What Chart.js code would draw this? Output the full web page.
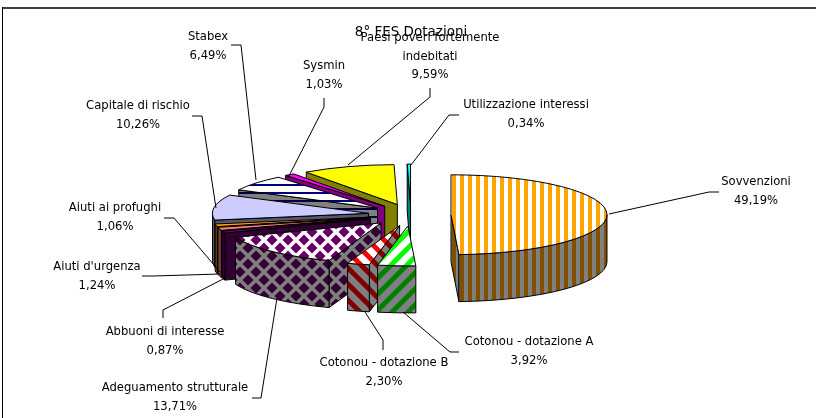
<!DOCTYPE html>
<html lang="it">
<head>
  <meta charset="UTF-8" />
  <title>8° FES Dotazioni</title>
  <script src="https://cdn.jsdelivr.net/npm/chart.js"></script>
  <style>
    html, body { margin: 0; padding: 0; background: #fff; }
    canvas { display: block; }
  </style>
</head>
<body>
  <canvas id="pie" width="816" height="418"></canvas>

  <script>
    // data
    const categories = [
      'Sovvenzioni', 'Cotonou - dotazione A', 'Cotonou - dotazione B', 'Adeguamento strutturale',
      'Abbuoni di interesse', "Aiuti d'urgenza", 'Aiuti ai profughi', 'Capitale di rischio',
      'Stabex', 'Sysmin', 'Paesi poveri fortemente\nindebitati', 'Utilizzazione interessi'
    ];
    const shares = [49.19, 3.92, 2.30, 13.71, 0.87, 1.24, 1.06, 10.26, 6.49, 1.03, 9.59, 0.34];

    // styles, one per slice
    const fillKinds = ['vstripe', 'diagUp', 'diagDown', 'diamond', 'solid', 'solid', 'solid', 'solid', 'hstripe', 'solid', 'solid', 'solid'];
    const topColors = ['#ffa500', '#00ff00', '#ff0000', '#660066', '#660066', '#ff8080', '#ffa500', '#ccccff', '#000080', '#ff00ff', '#ffff00', '#00ffff'];
    const wallColors = ['#804f00', '#008000', '#800000', '#330033', '#330033', '#804040', '#804f00', '#555570', '#000040', '#800080', '#808000', '#008080'];
    const explodeBy = [40, 43, 43, 43, 43, 43, 43, 43, 43, 43, 43, 43];

    // label layout: centre x, y of the first text line, then leader line points
    const labelX = [756, 529, 384, 175, 165, 97, 115, 138, 208, 324, 430, 526];
    const labelY = [182, 342, 363, 388, 332, 267, 208, 106, 37, 66, 38, 105];
    const lineGap = 18.5;
    const leaders = [
      [[719, 192], [709, 192], [609, 214]],
      [[459, 352], [450, 352], [403, 312]],
      [[383, 350], [383, 340], [365, 312]],
      [[252, 398], [261, 398], [277, 298]],
      [[163, 318], [163, 310], [225, 278]],
      [[142, 276], [153, 276], [220, 274]],
      [[164, 218], [174, 218], [220, 272]],
      [[192, 116], [202, 116], [216, 208]],
      [[231, 45], [241, 45], [256, 180]],
      [[324, 98], [324, 107], [288, 178]],
      [[430, 88], [430, 97], [348, 165]],
      [[459, 115], [449, 115], [411, 165]]
    ];

    // 3d look of the pie
    const RADIUS = 156, SQUASH = 0.256, DEPTH = 47, CENTER_Y = 215;

    function makePattern(kind, fg, bg) {
      const s = kind === 'diamond' || kind === 'diagUp' || kind === 'diagDown' ? 16 : 8;
      const c = document.createElement('canvas');
      c.width = c.height = s;
      const g = c.getContext('2d');
      g.fillStyle = bg;
      g.fillRect(0, 0, s, s);
      g.fillStyle = fg;
      g.strokeStyle = fg;
      g.filter = 'blur(0.6px)';  // the original hatches are soft
      if (kind === 'vstripe') g.fillRect(4, -2, 4, s + 4);
      if (kind === 'hstripe') g.fillRect(-2, 0, s + 4, 2);
      if (kind === 'diagUp' || kind === 'diagDown') {
        g.lineWidth = 5;
        if (kind === 'diagDown') { g.translate(s, 0); g.scale(-1, 1); }
        [-s, 0, s].forEach(d => {
          g.beginPath();
          g.moveTo(d - 2, s + 2);
          g.lineTo(d + s + 2, -2);
          g.stroke();
        });
      }
      if (kind === 'diamond') {
        [[0, 0], [16, 0], [0, 16], [16, 16], [8, 8]].forEach(p => {
          g.beginPath();
          g.moveTo(p[0] - 5.5, p[1]);
          g.lineTo(p[0], p[1] - 5.5);
          g.lineTo(p[0] + 5.5, p[1]);
          g.lineTo(p[0], p[1] + 5.5);
          g.closePath();
          g.fill();
        });
      }
      return g.createPattern(c, 'repeat');
    }

    const paint = (color, kind, bg) => kind === 'solid' ? color : makePattern(kind, color, bg);
    const topFills = topColors.map((col, i) => paint(col, fillKinds[i], '#ffffff'));
    const wallFills = wallColors.map((col, i) => paint(col, fillKinds[i], '#808080'));

    function drawSlice(ctx, arc, i) {
      const mid = (arc.startAngle + arc.endAngle) / 2;
      const t0 = arc.startAngle, t1 = arc.endAngle;
      const sx = arc.x + explodeBy[i] * Math.cos(mid);
      const sy = CENTER_Y + explodeBy[i] * SQUASH * Math.sin(mid);
      const ry = RADIUS * SQUASH;
      const px = t => sx + RADIUS * Math.cos(t);
      const py = t => sy + ry * Math.sin(t);

      ctx.save();
      ctx.lineWidth = 1;
      ctx.strokeStyle = '#000';
      ctx.lineJoin = 'round';
      ctx.fillStyle = wallFills[i];

      // side faces that look at the viewer
      [[t0, Math.cos(t0) < 0], [t1, Math.cos(t1) > 0]].forEach(([t, visible]) => {
        if (!visible) return;
        ctx.beginPath();
        ctx.moveTo(sx, sy);
        ctx.lineTo(px(t), py(t));
        ctx.lineTo(px(t), py(t) + DEPTH);
        ctx.lineTo(sx, sy + DEPTH);
        ctx.closePath();
        ctx.fill();
        ctx.stroke();
      });

      // outer curved wall, only the front half of the ellipse
      const a = Math.max(t0, 0), b = Math.min(t1, Math.PI);
      if (b > a) {
        ctx.beginPath();
        ctx.ellipse(sx, sy, RADIUS, ry, 0, a, b);
        ctx.lineTo(px(b), py(b) + DEPTH);
        ctx.ellipse(sx, sy + DEPTH, RADIUS, ry, 0, b, a, true);
        ctx.closePath();
        ctx.fill();
        ctx.stroke();
      }

      // top face goes through the library's own arc element
      ctx.save();
      ctx.translate(0, sy);
      ctx.scale(1, SQUASH);
      ctx.translate(sx - arc.x, -arc.y);
      const fill = topFills[i];
      if (typeof fill !== 'string') fill.setTransform(ctx.getTransform().inverse());
      arc.draw(ctx);
      ctx.restore();

      ctx.beginPath();
      ctx.moveTo(sx, sy);
      ctx.ellipse(sx, sy, RADIUS, ry, 0, t0, t1);
      ctx.closePath();
      ctx.stroke();
      ctx.restore();
    }

    const pie3d = {
      id: 'pie3d',
      beforeDatasetDraw(chart, args) {
        const ctx = chart.ctx;
        const arcs = args.meta.data;
        const backToFront = arcs.map((a, i) => i).sort((p, q) =>
          Math.sin((arcs[p].startAngle + arcs[p].endAngle) / 2) - Math.sin((arcs[q].startAngle + arcs[q].endAngle) / 2));
        backToFront.forEach(i => drawSlice(ctx, arcs[i], i));
        return false;
      },
      afterDraw(chart) {
        const ctx = chart.ctx;
        ctx.save();
        // frame, only top and left show
        ctx.fillStyle = '#404040';
        ctx.fillRect(2, 7, 814, 2);
        ctx.fillStyle = '#000';
        ctx.fillRect(2, 7, 1, 411);

        ctx.strokeStyle = '#000';
        ctx.lineWidth = 1;
        leaders.forEach(pts => {
          ctx.beginPath();
          pts.forEach((p, i) => i ? ctx.lineTo(p[0], p[1]) : ctx.moveTo(p[0], p[1]));
          ctx.stroke();
        });

        ctx.font = '11.6px "DejaVu Sans"';
        ctx.textAlign = 'center';
        ctx.textBaseline = 'middle';
        ctx.fillStyle = '#000';
        categories.forEach((name, i) => {
          const lines = name.split('\n');
          lines.push(shares[i].toFixed(2).replace('.', ',') + '%');
          lines.forEach((txt, n) => ctx.fillText(txt, labelX[i], labelY[i] + n * lineGap));
        });
        ctx.restore();
      }
    };

    new Chart(document.getElementById('pie'), {
      type: 'pie',
      data: {
        labels: categories,
        datasets: [{
          data: shares,
          backgroundColor: topFills,
          borderWidth: 0,
          clip: false
        }]
      },
      options: {
        responsive: false,
        animation: false,
        radius: RADIUS,
        rotation: 0,
        layout: { padding: { left: 6, top: 16 } },
        events: [],
        plugins: {
          legend: { display: false },
          tooltip: { enabled: false },
          title: {
            display: true,
            text: '8° FES Dotazioni',
            color: '#000',
            font: { family: '"DejaVu Sans"', size: 13.5, weight: 'normal' },
            padding: { top: 8, bottom: 0 }
          }
        }
      },
      plugins: [pie3d]
    });
  </script>
</body>
</html>
